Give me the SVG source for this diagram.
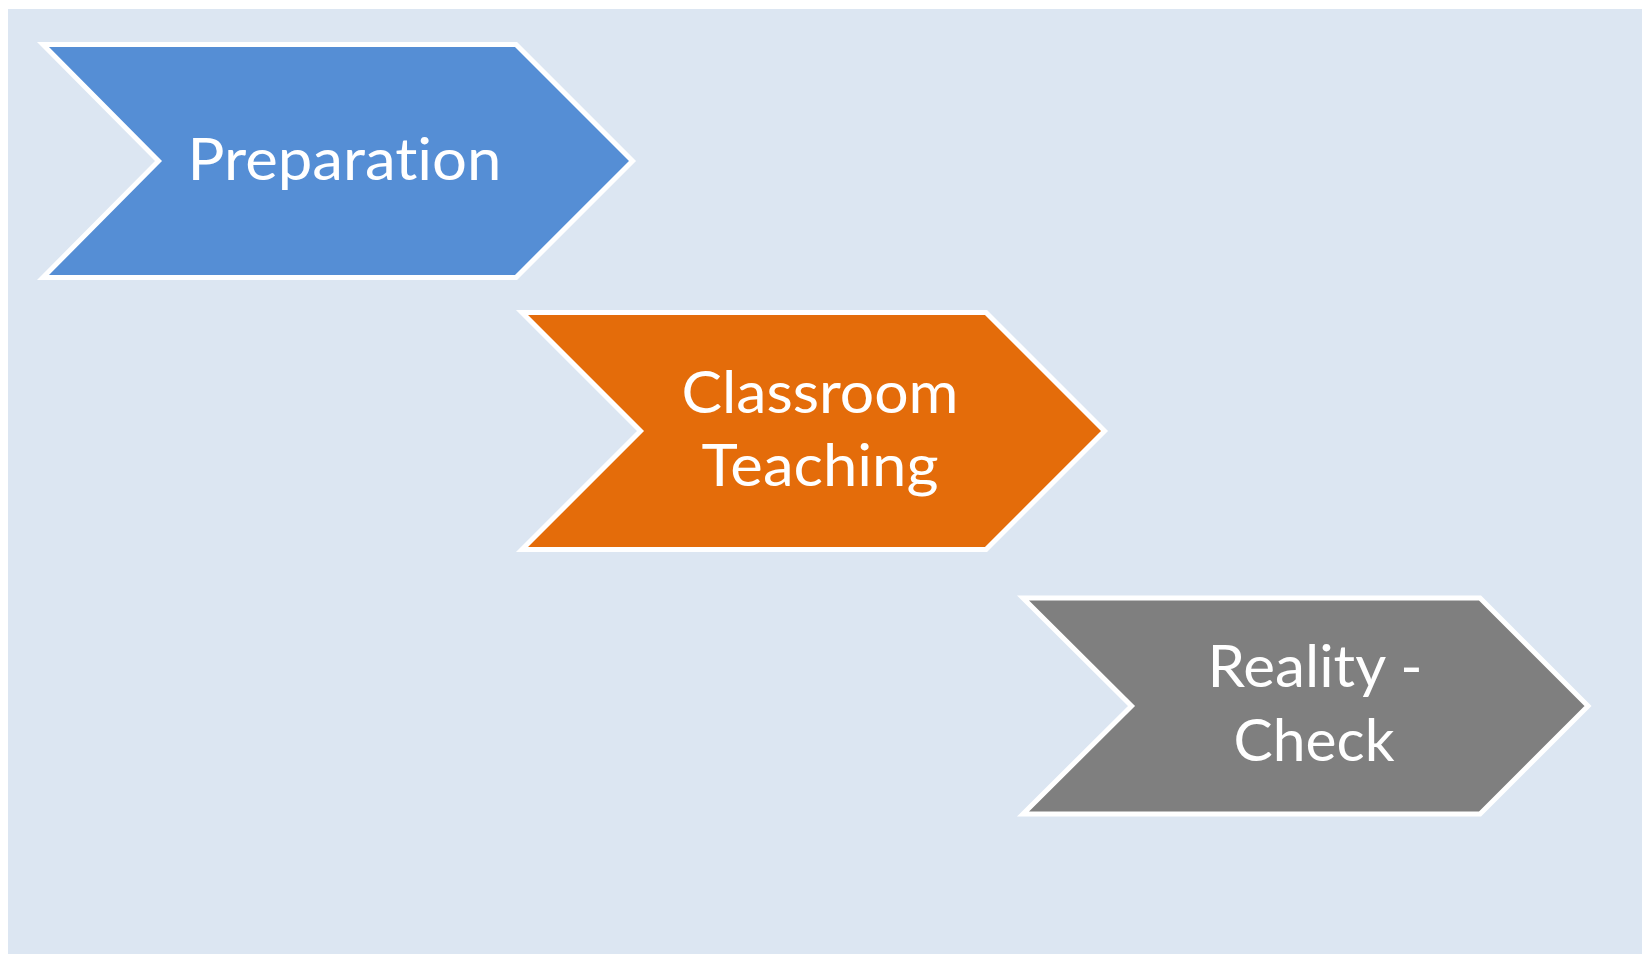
<svg xmlns="http://www.w3.org/2000/svg" width="1642" height="954" viewBox="0 0 1642 954">
  <style>
    .step { stroke: #ffffff; stroke-width: 5; stroke-linejoin: miter; }
    .label { font-family: Lato, "Liberation Sans", sans-serif; font-size: 58px; fill: #ffffff; text-anchor: middle; font-variant-ligatures: none; font-feature-settings: "liga" 0, "clig" 0; }
  </style>
  <rect x="0" y="0" width="1642" height="954" fill="#ffffff"/>
  <rect x="8" y="9" width="1634" height="945" fill="#dce6f2"/>

  <g id="preparation">
    <polygon class="step" fill="#558ed5" points="43,44.5 516,44.5 632.5,161 516,277.5 43,277.5 158.5,161"/>
    <text class="label" x="344.5" y="180" textLength="314" lengthAdjust="spacingAndGlyphs">Preparation</text>
  </g>

  <g id="classroom-teaching">
    <polygon class="step" fill="#e46c0a" points="522,312.5 986,312.5 1104.5,431 986,549.5 522,549.5 640.5,431"/>
    <text class="label" x="820" y="412.5" textLength="277" lengthAdjust="spacingAndGlyphs">Classroom</text>
    <text class="label" x="820" y="486" textLength="237" lengthAdjust="spacingAndGlyphs">Teaching</text>
  </g>

  <g id="reality-check">
    <polygon class="step" fill="#7f7f7f" points="1023,598 1480,598 1588,706 1480,814 1023,814 1131.5,706"/>
    <text class="label" x="1315" y="687.3" textLength="215" lengthAdjust="spacingAndGlyphs">Reality -</text>
    <text class="label" x="1314" y="761" textLength="161" lengthAdjust="spacingAndGlyphs">Check</text>
  </g>

  <g id="connectors"/>
</svg>
